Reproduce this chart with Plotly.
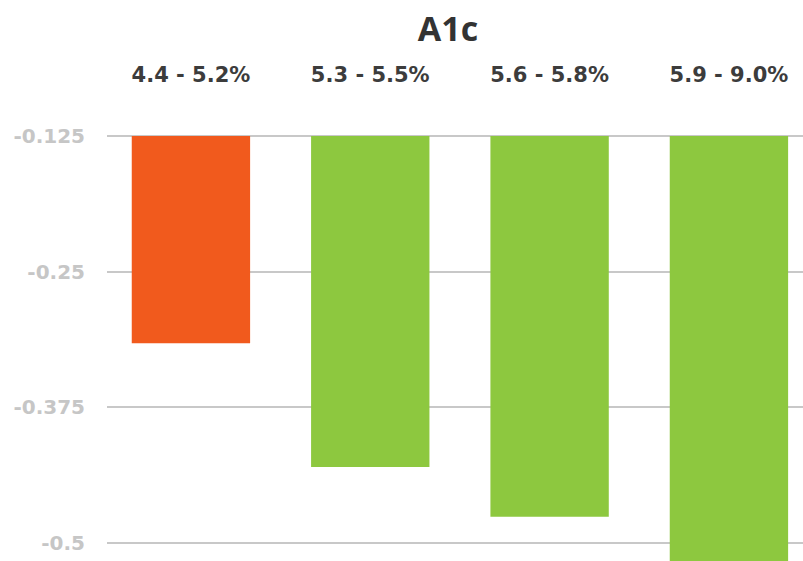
import plotly.graph_objects as go

# A1c ranges and the effect measured for each
categories = ["4.4 - 5.2%", "5.3 - 5.5%", "5.6 - 5.8%", "5.9 - 9.0%"]
values = [-0.316, -0.430, -0.476, -0.55]
bar_colors = ["#F15A1D", "#8DC83F", "#8DC83F", "#8DC83F"]
baseline = -0.125
y_ticks = [-0.125, -0.25, -0.375, -0.5]
y_tick_text = ["-0.125", "-0.25", "-0.375", "-0.5"]

fig = go.Figure(
    go.Bar(
        x=categories,
        y=[v - baseline for v in values],
        base=baseline,
        marker=dict(color=bar_colors, line=dict(width=0)),
        width=0.66,
        hoverinfo="skip",
    )
)

fig.update_layout(
    width=803,
    height=561,
    margin=dict(l=107, r=0, t=100, b=0),
    paper_bgcolor="white",
    plot_bgcolor="white",
    showlegend=False,
    title=dict(
        text="A1c",
        x=448 / 803,
        xanchor="center",
        xref="container",
        y=1 - 29 / 561,
        yanchor="middle",
        yref="container",
        font=dict(family="Open Sans", size=34, color="#333333", weight="bold"),
    ),
    font=dict(family="DejaVu Sans"),
)

fig.update_xaxes(
    side="top",
    range=[-0.468, 3.413],
    showgrid=False,
    zeroline=False,
    showline=False,
    ticks="",
    ticklabelstandoff=13,
    tickfont=dict(family="DejaVu Sans", size=21, color="#3c3c3c", weight="bold"),
)

fig.update_yaxes(
    range=[-0.5167, -0.0918],
    tickvals=y_ticks,
    ticktext=y_tick_text,
    showgrid=True,
    gridcolor="#c8c8c8",
    gridwidth=2,
    zeroline=False,
    showline=False,
    ticks="",
    ticklabelstandoff=21,
    tickfont=dict(family="DejaVu Sans", size=20, color="#c6c6c6", weight="bold"),
)

fig.write_html("out.html")
